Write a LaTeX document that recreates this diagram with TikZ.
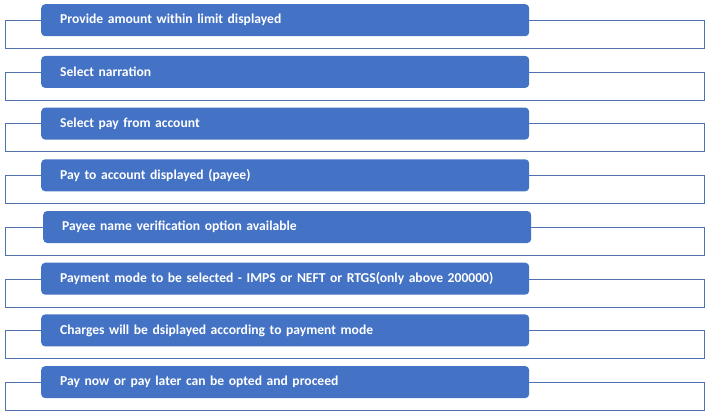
\documentclass[tikz,border=0pt]{standalone}
\usepackage{fontspec}
\setmainfont{Carlito}
\usetikzlibrary{calc}
\definecolor{stepblue}{HTML}{4472C4}
\definecolor{frameblue}{HTML}{5272AE}
\tikzset{
  stepbox/.style={fill=stepblue, rounded corners=4pt, anchor=north west,
    minimum width=488pt, minimum height=32pt, inner xsep=19pt, text width=450pt,
    align=left, text=white, font=\fontsize{13.6}{15}\selectfont\bfseries},
  rowframe/.style={draw=frameblue, line width=0.9pt}
}
\begin{document}
\begin{tikzpicture}[x=1pt,y=-1pt]
		%%%%% START %%%%%
		\useasboundingbox (0,0) rectangle (709,416);
		\foreach \i/\dx/\txt in {0/0/Provide amount within limit displayed,
			1/0/Select narration,
			2/0/Select pay from account,
			3/0/Pay to account displayed (payee),
			4/2/Payee name verification option available,
			5/0/Payment mode to be selected - IMPS or NEFT or RTGS(only above 200000),
			6/0/Charges will be dsiplayed according to payment mode,
			7/0/Pay now or pay later can be opted and proceed}{
			\coordinate (top\i) at (0, 4+51.7*\i);
			\draw[rowframe] ($(top\i)+(5.5,16.5)$) rectangle ($(top\i)+(704.5,44.5)$);
			\node[stepbox] (step\i) at ($(top\i)+(41+\dx,0)$) {\txt};
		}
		%%%%% END %%%%%
\end{tikzpicture}
\end{document}
